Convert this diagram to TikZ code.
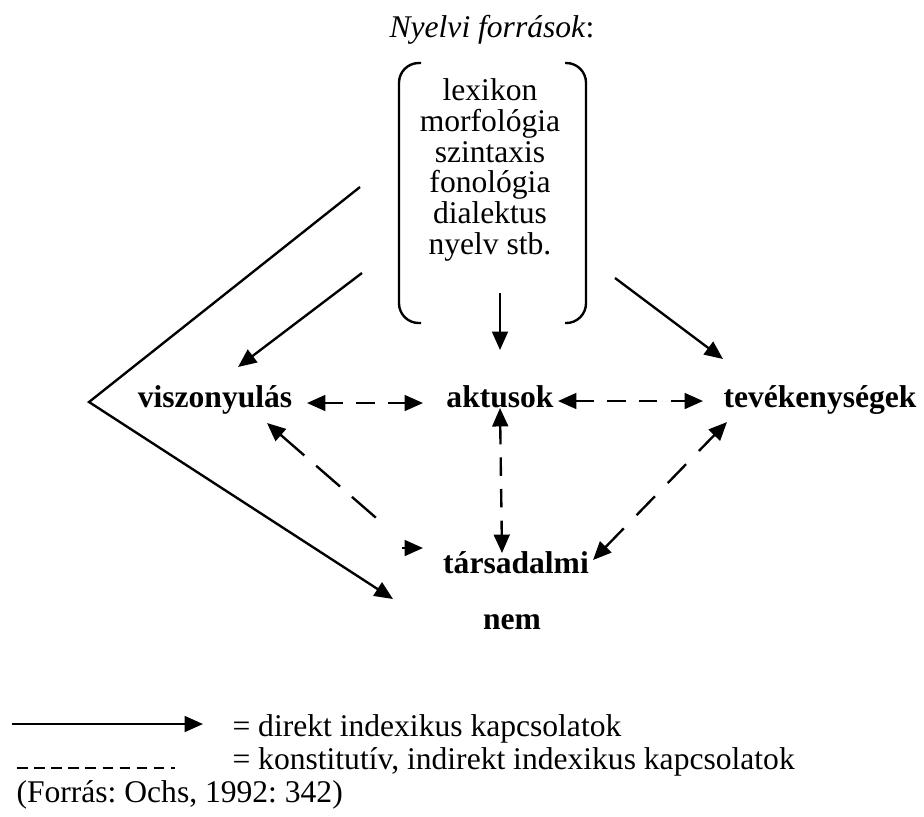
\documentclass[12pt,tikz,border=0pt]{standalone}
\usepackage{fontspec}
\setmainfont{Liberation Serif}
\frenchspacing
\usetikzlibrary{arrows.meta,positioning}
\begin{document}
\begin{tikzpicture}[x=0.38pt,y=-0.38pt,
  tip/.style={-{Triangle[length=7pt,width=6pt]}},
  backtip/.style={{Triangle[length=7pt,width=6pt]}-},
  twotip/.style={{Triangle[length=7pt,width=6pt]}-{Triangle[length=7pt,width=6pt]}},
  link/.style={line width=0.9pt},
  dashlink/.style={line width=0.9pt,dash pattern=on 7pt off 5pt},
  concept/.style={font=\bfseries,anchor=base,inner sep=1pt}]
  \useasboundingbox (0,0) rectangle (924,816);
  \node[anchor=base,inner sep=0pt] (cim) at (492,37) {\textit{Nyelvi források}:};
  \node[align=center,font=\fontsize{12}{11.7}\selectfont] (forrasok) at (490,170) {lexikon\\morfológia\\szintaxis\\fonológia\\dialektus\\nyelv stb.};
  \draw[link,rounded corners=7.5pt] (421,63) -- (399,63) -- (399,323) -- (421,323);
  \draw[link,rounded corners=7.5pt] (565,63) -- (586,63) -- (586,323) -- (565,323);
  \node[concept] (viszonyulas) at (215,407) {viszonyulás};
  \node[concept] (aktusok) at (500,407) {aktusok};
  \node[concept] (tevekenysegek) at (820,407) {tevékenységek};
  \node[concept] (tarsadalmi) at (516,573) {társadalmi};
  \node[concept] (nem) at (512,629) {nem};
  \coordinate (vfelso) at (360,187);
  \coordinate (vcsucs) at (89,402);
  \coordinate (vvege) at (393,599);
  \coordinate (forras-bal) at (362,273);
  \coordinate (forras-jobb) at (615,278);
  \coordinate (forras-also) at (500,293);
  \coordinate (viszony-fent) at (238,367);
  \coordinate (tevek-fent) at (723,359);
  \coordinate (aktus-fent) at (500,350);
  \draw[link,tip] (vfelso) -- (vcsucs) -- (vvege);
  \draw[link,tip] (forras-bal) -- (viszony-fent);
  \draw[link,tip] (forras-jobb) -- (tevek-fent);
  \draw[link,tip] (forras-also) -- (aktus-fent);
  \coordinate (viszony-j) at (307,403);
  \coordinate (aktus-b) at (423,403);
  \coordinate (aktus-j) at (558,401);
  \coordinate (tevek-b) at (703,401);
  \coordinate (aktus-a) at (500,408);
  \coordinate (tars-f) at (502,553);
  \coordinate (viszony-a) at (267,423);
  \coordinate (tars-b1) at (382,523);
  \coordinate (tars-b2) at (402,548);
  \coordinate (tars-b3) at (423,548);
  \coordinate (tars-j) at (593,560);
  \coordinate (tevek-a) at (727,422);
  \draw[dashlink,twotip] (viszony-j) -- (aktus-b);
  \draw[dashlink,twotip] (aktus-j) -- (tevek-b);
  \draw[dashlink,twotip] (aktus-a) -- (tars-f);
  \draw[dashlink,dash pattern=on 12pt off 6pt,backtip] (viszony-a) -- (tars-b1);
  \draw[link,tip] (tars-b2) -- (tars-b3);
  \draw[dashlink,dash pattern=on 10pt off 7pt,twotip] (tars-j) -- (tevek-a);
  \coordinate (jel1-b) at (12,724);
  \coordinate (jel1-j) at (203,724);
  \coordinate (jel2-b) at (17,768);
  \coordinate (jel2-j) at (175,768);
  \draw[link,tip] (jel1-b) -- (jel1-j);
  \draw[line width=0.5pt,dash pattern=on 4pt off 2.5pt] (jel2-b) -- (jel2-j);
  \node[anchor=base west,inner sep=0pt] (direkt) at (232,736) {= direkt indexikus kapcsolatok};
  \node[anchor=base west,inner sep=0pt] (indirekt) at (232,769) {= konstitutív, indirekt indexikus kapcsolatok};
  \node[anchor=base west,inner sep=0pt] (forras) at (16,802) {(Forrás: Ochs, 1992: 342)};
\end{tikzpicture}
\end{document}
